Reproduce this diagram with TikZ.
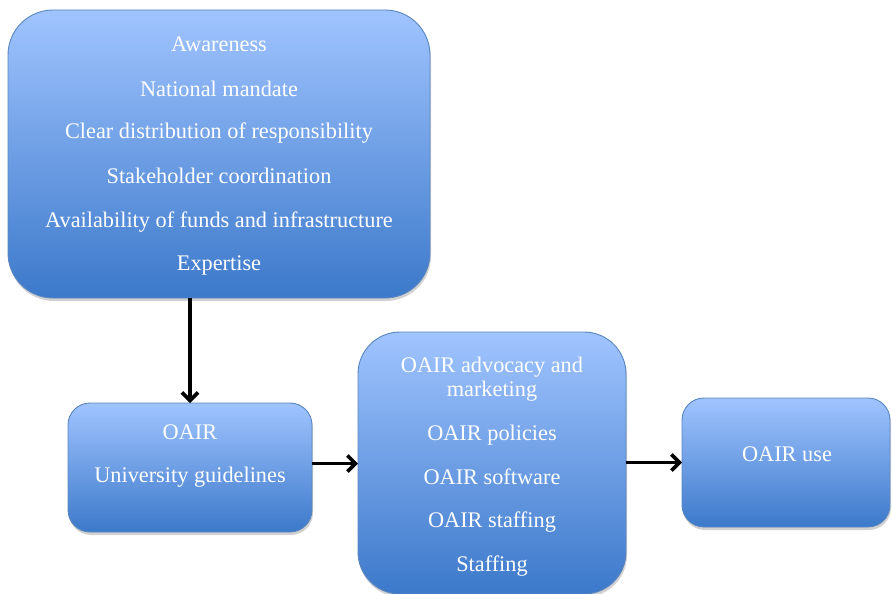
\documentclass[tikz,border=0pt]{standalone}
\usepackage{fontspec}
\setmainfont{Liberation Serif}
\usetikzlibrary{arrows.meta,shadows}
\definecolor{gtop}{HTML}{A0C4FF}
\definecolor{gbot}{HTML}{3C79CA}
\definecolor{gline}{HTML}{5A86C0}
\tikzset{
  gbox/.style={draw=gline, line width=0.9pt, top color=gtop, bottom color=gbot,
    inner sep=0pt, outer sep=0pt,
    drop shadow={shadow xshift=1pt, shadow yshift=-3pt, opacity=0.3, fill=black!60}},
  txt/.style={text=white, font=\fontsize{22.3}{24}\selectfont, inner sep=0pt, anchor=base},
  conn/.style={line width=3.6pt, -{Straight Barb[length=8pt,width=16pt,line width=3.6pt]}}
}
\begin{document}
\begin{tikzpicture}[x=1pt,y=-1pt]
\useasboundingbox (0,0) rectangle (892,594);
\node[gbox, rounded corners=45pt, minimum width=422pt, minimum height=288pt] (top) at (219,154) {};
\node[gbox, rounded corners=22pt, minimum width=244pt, minimum height=129pt] (oair) at (190,467.5) {};
\node[gbox, rounded corners=42pt, minimum width=268pt, minimum height=262pt] (mid) at (492,463) {};
\node[gbox, rounded corners=22pt, minimum width=208pt, minimum height=129pt] (use) at (786,462.5) {};
% texts top box
\node[txt] (t1) at (219,52) {Awareness};
\node[txt] (t2) at (219,96) {National mandate};
\node[txt] (t3) at (219,139) {Clear distribution of responsibility};
\node[txt] (t4) at (219,183) {Stakeholder coordination};
\node[txt] (t5) at (219,227) {Availability of funds and infrastructure};
\node[txt] (t6) at (219,270) {Expertise};
% oair box
\node[txt] (o1) at (190,439) {OAIR};
\node[txt] (o2) at (190,482) {University guidelines};
% middle
\node[txt] (m1) at (492,372) {OAIR advocacy and};
\node[txt] (m2) at (492,396) {marketing};
\node[txt] (m3) at (492,440) {OAIR policies};
\node[txt] (m4) at (492,484) {OAIR software};
\node[txt] (m5) at (492,527) {OAIR staffing};
\node[txt] (m6) at (492,571) {Staffing};
% use
\node[txt] (u1) at (787,461) {OAIR use};
% connectors
\draw[conn] (top.south -| oair.north) -- (oair.north);
\draw[conn] ([yshift=4pt]oair.east) -- ([yshift=4pt]oair.east -| mid.west);
\draw[conn] (mid.east |- use.west) -- (use.west);
\end{tikzpicture}
\end{document}
